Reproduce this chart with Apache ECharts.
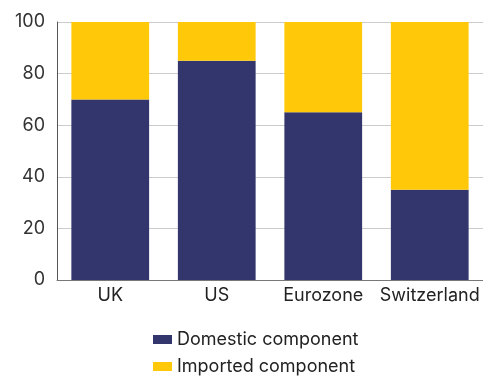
<!DOCTYPE html>
<html><head><meta charset="utf-8">
<script src="https://cdn.jsdelivr.net/npm/echarts@6/dist/echarts.min.js"></script>
<style>html,body{margin:0;padding:0;background:#fff}#c{width:483px;height:376px}</style>
</head><body><div id="c"></div>
<script>
const categories = ["UK", "US", "Eurozone", "Switzerland"];
const domestic = [70, 85, 65, 35];
const imported = [30, 15, 35, 65];
const seriesNames = ["Domestic component", "Imported component"];

const chart = echarts.init(document.getElementById('c'));
const font = "Inter";
chart.setOption({
  animation: false,
  textStyle: {fontFamily: font},
  grid: {left: 57, right: 0, top: 22, bottom: 96},
  legend: {
    orient: 'vertical', left: 153, top: 330, itemWidth: 19, itemHeight: 9, itemGap: 8,
    padding: 0, icon: 'rect',
    textStyle: {fontFamily: font, fontSize: 18, color: '#222', lineHeight: 19},
    data: seriesNames
  },
  xAxis: {
    type: 'category', data: categories,
    axisLine: {lineStyle: {color: '#777', width: 1}},
    axisTick: {show: false},
    axisLabel: {fontFamily: font, fontSize: 18, color: '#222', margin: 7, interval: 0}
  },
  yAxis: {
    type: 'value', min: 0, max: 100, interval: 20,
    axisLine: {show: true, lineStyle: {color: '#555', width: 1}},
    axisTick: {show: false},
    splitLine: {lineStyle: {color: '#ccc', width: 1}},
    axisLabel: {fontFamily: font, fontSize: 18, color: '#333', margin: 12}
  },
  series: [
    {name: seriesNames[0], type: 'bar', stack: 's', data: domestic, barWidth: '73%', itemStyle: {color: '#33366d'}},
    {name: seriesNames[1], type: 'bar', stack: 's', data: imported, barWidth: '73%', itemStyle: {color: '#ffc90a'}}
  ]
});
</script></body></html>
